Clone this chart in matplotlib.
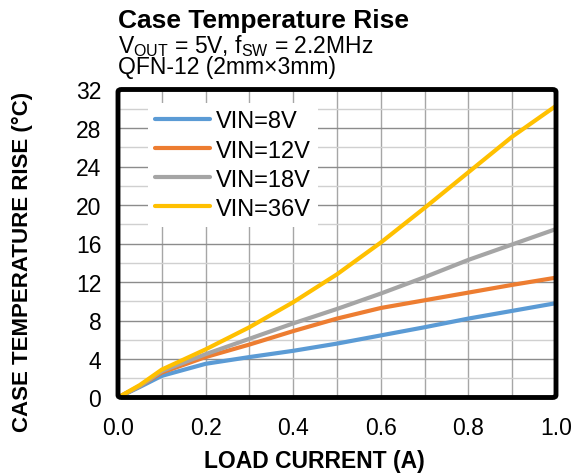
import matplotlib
matplotlib.use("Agg")
import matplotlib.pyplot as plt
from matplotlib.patches import FancyBboxPatch
import numpy as np

plt.rcParams['font.family'] = ['Liberation Sans', 'DejaVu Sans']
plt.rcParams['mathtext.fontset'] = 'custom'
plt.rcParams['mathtext.rm'] = 'Liberation Sans'

load_current = [0.0, 0.05, 0.1, 0.2, 0.3, 0.4, 0.5, 0.6, 0.7, 0.8, 0.9, 1.0]
vin_8v = [0.0, 1.1, 2.25, 3.5, 4.2, 4.85, 5.6, 6.45, 7.3, 8.2, 9.0, 9.8]
vin_12v = [0.0, 1.2, 2.6, 4.2, 5.5, 6.9, 8.2, 9.3, 10.1, 10.9, 11.7, 12.45]
vin_18v = [0.0, 1.2, 2.75, 4.5, 6.1, 7.7, 9.2, 10.8, 12.5, 14.3, 15.9, 17.5]
vin_36v = [0.0, 1.3, 2.9, 5.0, 7.3, 9.9, 12.8, 16.1, 19.7, 23.4, 27.1, 30.3]
series_labels = ["VIN=8V", "VIN=12V", "VIN=18V", "VIN=36V"]
series_colors = ["#5B9BD5", "#ED7D31", "#A5A5A5", "#FFC000"]
x_ticks = [0.0, 0.2, 0.4, 0.6, 0.8, 1.0]
y_ticks = [0, 4, 8, 12, 16, 20, 24, 28, 32]

W, H = 576, 477
fig = plt.figure(figsize=(W / 100, H / 100), dpi=100)
ax = fig.add_axes([118 / W, 1 - 398.5 / H, (556 - 118) / W, (398.5 - 90.5) / H])

ax.set_xlim(0, 1.0)
ax.set_ylim(0, 32)

# grid
for xv in np.arange(0.1, 1.0, 0.1):
    ax.axvline(xv, color="#a6a6a6", lw=1.0, zorder=1)
for yv in np.arange(2, 32, 2):
    if yv % 4 == 0:
        ax.axhline(yv, color="#8c8c8c", lw=1.0, zorder=1)
    else:
        ax.axhline(yv, color="#d0d0d0", lw=1.0, zorder=1)

for ys, lab, col in zip([vin_8v, vin_12v, vin_18v, vin_36v], series_labels, series_colors):
    ax.plot(load_current, ys, color=col, lw=3.0, label=lab, zorder=3,
            solid_capstyle="round", solid_joinstyle="round")

ax.set_xticks(x_ticks)
ax.set_xticklabels([f"{v:.1f}" for v in x_ticks], fontsize=16.5)
ax.set_yticks(y_ticks)
ax.set_yticklabels([str(v) for v in y_ticks], fontsize=16.5)
ax.tick_params(axis="both", length=0)
ax.tick_params(axis="x", pad=13)
ax.tick_params(axis="y", pad=12)
ax.set_xticks(np.arange(0, 1.01, 0.1), minor=True)
ax.tick_params(axis="x", which="minor", direction="in", length=4, color="#a6a6a6")

for s in ax.spines.values():
    s.set_visible(False)
frame = FancyBboxPatch((0, 0), 1, 1, boxstyle="round,pad=0,rounding_size=0.008",
                       transform=ax.transAxes, fill=False, ec="black", lw=3.5,
                       clip_on=False, zorder=5)
ax.add_patch(frame)

leg = ax.legend(loc="upper left", bbox_to_anchor=(0.068, 0.955), fontsize=17,
                frameon=True, fancybox=False, edgecolor="none", framealpha=1,
                handlelength=2.35, handletextpad=0.25, labelspacing=0.3,
                borderpad=0.3, borderaxespad=0)
leg.get_frame().set_linewidth(0)
leg.set_zorder(4)

fig.text(118 / W, 1 - 28 / H, "Case Temperature Rise", fontsize=19,
         fontweight="bold", ha="left", va="baseline")

subtitle = (r"V$_{\mathregular{OUT}}$ = 5V, f$_{\mathregular{SW}}$ = 2.2MHz" + "\n"
            + "QFN-12 (2mm\u00d73mm)")
fig.text(118 / W, 1 - 74 / H, subtitle, fontsize=16.5, ha="left",
         va="baseline", linespacing=0.82, multialignment="left")

fig.text(22 / W, 1 - 262 / H, "CASE TEMPERATURE RISE (\u00b0C)", fontsize=16,
         fontweight="bold", rotation=90, ha="center", va="center")
fig.text(314 / W, 1 - 462 / H, "LOAD CURRENT (A)", fontsize=16.5,
         fontweight="bold", ha="center", va="center")

fig.savefig("out.png", dpi=100)
